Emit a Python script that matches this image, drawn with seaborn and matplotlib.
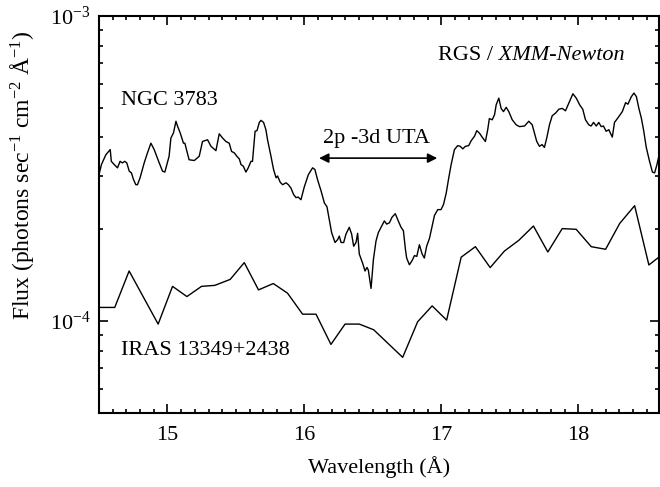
import matplotlib
matplotlib.use("Agg")
import matplotlib.pyplot as plt
import matplotlib.ticker as mticker
import numpy as np
import pandas as pd
import seaborn as sns

# ---------------- data (flux in units of 1e-4 photons s^-1 cm^-2 A^-1) ----------------
ngc_wave = [14.500, 14.518, 14.550, 14.582, 14.590, 14.611, 14.635, 14.654, 14.671, 14.688,
            14.703, 14.721, 14.737, 14.752, 14.769, 14.781, 14.800, 14.830, 14.854, 14.879,
            14.903, 14.940, 14.964, 14.981, 15.012, 15.025, 15.044, 15.062, 15.074, 15.093,
            15.117, 15.127, 15.158, 15.196, 15.232, 15.256, 15.293, 15.318, 15.354, 15.378,
            15.403, 15.427, 15.451, 15.468, 15.488, 15.507, 15.525, 15.537, 15.554, 15.573,
            15.590, 15.610, 15.621, 15.640, 15.654, 15.671, 15.683, 15.702, 15.719, 15.731,
            15.756, 15.775, 15.793, 15.804, 15.824, 15.841, 15.866, 15.883, 15.902, 15.921,
            15.939, 15.955, 15.975, 15.999, 16.029, 16.060, 16.077, 16.096, 16.122, 16.146,
            16.165, 16.182, 16.199, 16.224, 16.243, 16.255, 16.268, 16.287, 16.304, 16.328,
            16.345, 16.360, 16.377, 16.389, 16.401, 16.425, 16.443, 16.457, 16.467, 16.475,
            16.487, 16.504, 16.523, 16.540, 16.560, 16.584, 16.601, 16.621, 16.640, 16.664,
            16.682, 16.706, 16.723, 16.738, 16.747, 16.767, 16.787, 16.804, 16.821, 16.840,
            16.860, 16.876, 16.893, 16.914, 16.933, 16.950, 16.974, 16.998, 17.016, 17.036,
            17.054, 17.072, 17.096, 17.120, 17.138, 17.157, 17.176, 17.200, 17.218, 17.243,
            17.259, 17.279, 17.298, 17.322, 17.339, 17.351, 17.372, 17.389, 17.401, 17.420,
            17.437, 17.454, 17.474, 17.493, 17.518, 17.547, 17.571, 17.608, 17.639, 17.664,
            17.680, 17.697, 17.717, 17.736, 17.753, 17.770, 17.790, 17.810, 17.835, 17.859,
            17.883, 17.907, 17.936, 17.961, 17.986, 18.010, 18.033, 18.053, 18.077, 18.094,
            18.112, 18.132, 18.150, 18.168, 18.184, 18.204, 18.224, 18.234, 18.249, 18.265,
            18.289, 18.322, 18.346, 18.363, 18.388, 18.407, 18.425, 18.443, 18.461, 18.477,
            18.497, 18.521, 18.542, 18.558, 18.575, 18.594]
ngc_flux = [3.02, 3.26, 3.51, 3.65, 3.34, 3.26, 3.18, 3.34, 3.30, 3.34,
            3.30, 3.10, 3.06, 2.91, 2.80, 2.80, 2.95, 3.30, 3.56, 3.83,
            3.65, 3.30, 3.10, 3.08, 3.47, 3.98, 4.14, 4.52, 4.35, 4.14,
            3.83, 3.83, 3.38, 3.36, 3.47, 3.88, 3.93, 3.74, 3.62, 4.11,
            3.98, 3.88, 3.83, 3.60, 3.56, 3.47, 3.40, 3.26, 3.22, 3.08,
            3.18, 3.34, 3.34, 4.19, 4.21, 4.48, 4.55, 4.48, 4.24, 3.93,
            3.47, 3.14, 2.95, 2.99, 2.85, 2.80, 2.84, 2.80, 2.73, 2.60,
            2.54, 2.55, 2.50, 2.75, 3.02, 3.18, 3.14, 2.91, 2.67, 2.44,
            2.37, 2.15, 1.95, 1.81, 1.85, 1.90, 1.81, 1.81, 1.93, 2.03,
            1.93, 1.76, 1.81, 1.94, 1.66, 1.55, 1.46, 1.50, 1.47, 1.39,
            1.28, 1.59, 1.83, 1.95, 2.03, 2.13, 2.08, 2.10, 2.19, 2.25,
            2.15, 2.03, 1.98, 1.72, 1.61, 1.53, 1.58, 1.64, 1.63, 1.78,
            1.66, 1.61, 1.76, 1.87, 2.05, 2.22, 2.32, 2.32, 2.41, 2.63,
            2.94, 3.26, 3.65, 3.76, 3.74, 3.67, 3.74, 3.76, 3.90, 4.04,
            4.21, 4.13, 4.01, 3.88, 4.24, 4.61, 4.57, 4.75, 5.12, 5.38,
            4.98, 4.86, 5.02, 4.86, 4.57, 4.40, 4.34, 4.36, 4.52, 4.40,
            4.14, 3.88, 3.74, 3.79, 3.71, 3.98, 4.40, 4.71, 4.81, 4.95,
            4.98, 4.89, 5.24, 5.56, 5.38, 5.12, 4.95, 4.57, 4.40, 4.36,
            4.48, 4.36, 4.48, 4.34, 4.36, 4.19, 4.24, 4.14, 4.01, 4.48,
            4.63, 4.86, 5.20, 5.14, 5.44, 5.59, 5.44, 4.98, 4.63, 4.24,
            3.71, 3.34, 3.08, 3.06, 3.26, 3.56]

iras_wave = [14.501, 14.615, 14.720, 14.932, 15.037, 15.142, 15.249, 15.346, 15.458, 15.561,
             15.665, 15.773, 15.877, 15.987, 16.085, 16.194, 16.297, 16.401, 16.506, 16.718,
             16.827, 16.933, 17.039, 17.145, 17.249, 17.357, 17.461, 17.566, 17.673, 17.778,
             17.883, 17.985, 18.095, 18.200, 18.303, 18.412, 18.516, 18.594]
iras_flux = [1.109, 1.109, 1.46, 0.978, 1.30, 1.204, 1.30, 1.31, 1.37, 1.555,
             1.266, 1.328, 1.235, 1.054, 1.054, 0.839, 0.978, 0.978, 0.937, 0.761,
             0.995, 1.122, 1.008, 1.62, 1.754, 1.498, 1.697, 1.84, 2.05, 1.685,
             2.01, 2.00, 1.754, 1.72, 2.09, 2.39, 1.528, 1.627]

flux_unit = 1e-4
x_limits = (14.5, 18.59)
y_limits = (5e-5, 1e-3)

# ---------------- style ----------------
sns.set_style("ticks")
plt.rcParams["font.family"] = ["Liberation Serif", "DejaVu Serif"]
plt.rcParams["mathtext.fontset"] = "custom"
plt.rcParams["mathtext.rm"] = "Liberation Serif"
plt.rcParams["mathtext.it"] = "Liberation Serif:italic"
plt.rcParams["font.size"] = 16
for key in ("text.color", "axes.labelcolor", "xtick.color", "ytick.color", "axes.edgecolor"):
    plt.rcParams[key] = "black"

fig = plt.figure(figsize=(6.6, 4.87), dpi=100)
ax = fig.add_axes([99 / 660, 1 - 413 / 487, 560 / 660, 397 / 487])

ngc_df = pd.DataFrame({"wave": ngc_wave, "flux": np.array(ngc_flux) * flux_unit})
iras_df = pd.DataFrame({"wave": iras_wave, "flux": np.array(iras_flux) * flux_unit})

sns.lineplot(data=ngc_df, x="wave", y="flux", ax=ax, color="black", lw=1.0,
             estimator=None, sort=False)
sns.lineplot(data=iras_df, x="wave", y="flux", ax=ax, color="black", lw=1.0,
             estimator=None, sort=False)

ax.set_yscale("log")
ax.set_xlim(*x_limits)
ax.set_ylim(*y_limits)

ax.xaxis.set_major_locator(mticker.MultipleLocator(1))
ax.xaxis.set_minor_locator(mticker.MultipleLocator(0.1))
ax.yaxis.set_major_locator(mticker.LogLocator(base=10))
ax.yaxis.set_minor_locator(mticker.LogLocator(base=10, subs=np.arange(2, 10)))
ax.yaxis.set_minor_formatter(mticker.NullFormatter())
ax.yaxis.set_major_formatter(mticker.FuncFormatter(
    lambda v, p: r"$10^{%d}$" % int(round(np.log10(v)))))

for s in ax.spines.values():
    s.set_linewidth(1.5)
    s.set_visible(True)
    s.set_color("black")
ax.tick_params(which="both", direction="in", top=True, right=True, color="black")
ax.tick_params(which="major", length=6.5, width=1.2)
ax.tick_params(which="minor", length=3.2, width=1.2)
ax.tick_params(axis="x", which="major", pad=9, labelsize=16)
ax.tick_params(axis="y", which="major", pad=6, labelsize=16)

ax.set_xlabel("Wavelength (Å)", fontsize=16, labelpad=8)
ax.set_ylabel(r"Flux (photons sec$^{-1}$ cm$^{-2}$ Å$^{-1}$)", fontsize=17)
ax.yaxis.set_label_coords(-0.1375, 0.60)
ax.yaxis.label.set_verticalalignment("center")

# annotations
t1 = ax.text(0.605, 0.889, "RGS /", transform=ax.transAxes, ha="left", va="baseline", fontsize=16)
ax.annotate(" XMM-Newton", xy=(1, 0), xycoords=t1, ha="left", va="bottom",
            fontsize=16, style="italic")
ax.text(0.039, 0.776, "NGC 3783", transform=ax.transAxes, ha="left", va="baseline", fontsize=16)
ax.text(0.04, 0.146, "IRAS 13349+2438", transform=ax.transAxes, ha="left", va="baseline", fontsize=16)
ax.text(0.496, 0.680, "2p -3d UTA", transform=ax.transAxes, ha="center", va="baseline", fontsize=16)
ax.annotate("", xy=(0.604, 0.642), xytext=(0.393, 0.642),
            xycoords="axes fraction", textcoords="axes fraction",
            arrowprops=dict(arrowstyle="<|-|>", color="black", lw=1.2,
                            mutation_scale=14, shrinkA=0, shrinkB=0))

fig.savefig("out.png", dpi=100)
